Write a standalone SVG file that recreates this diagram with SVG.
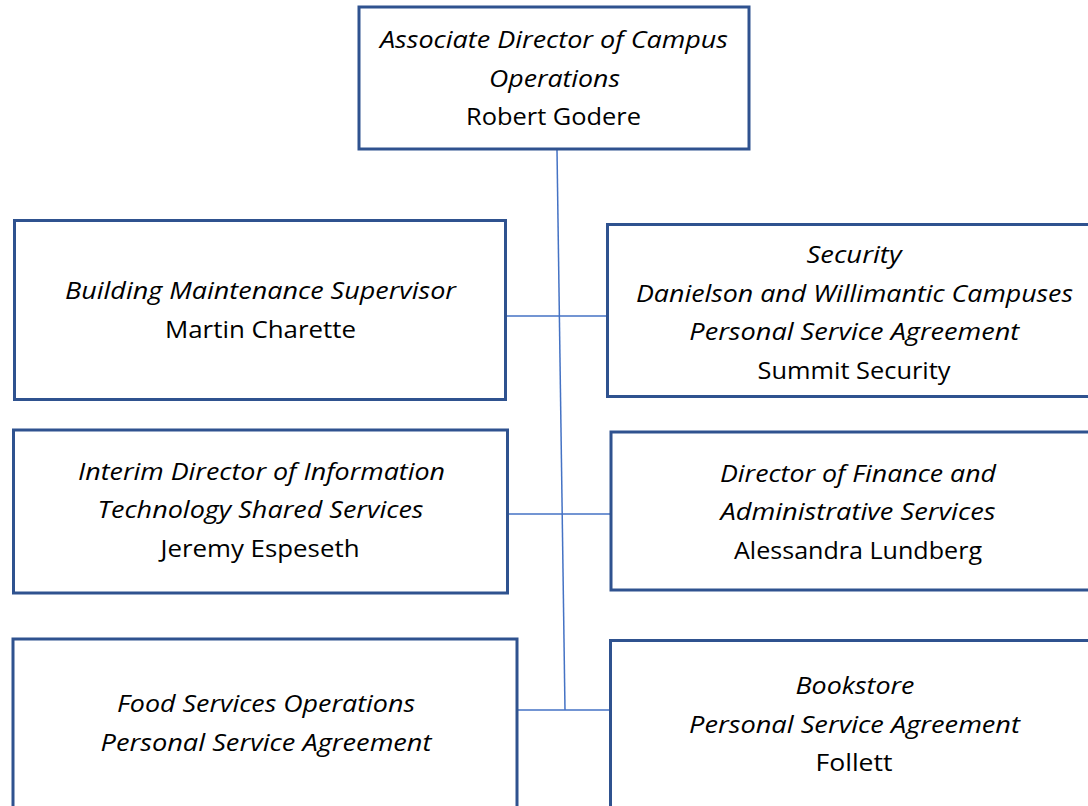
<svg xmlns="http://www.w3.org/2000/svg" width="1088" height="806" viewBox="0 0 1088 806">
<style>
.box{fill:#ffffff;stroke:#2F528F;stroke-width:3}
.con{stroke:#4472C4;stroke-width:1.5;fill:none}
text{font-family:"Open Sans","Liberation Sans",sans-serif;font-size:23px;fill:#000;text-anchor:middle}
.t{font-style:italic}
</style>
<rect width="1088" height="806" fill="#ffffff"/>
<g id="connectors">
<line class="con" x1="557" y1="150" x2="565" y2="710"/>
<line class="con" x1="507" y1="316" x2="611" y2="316"/>
<line class="con" x1="508" y1="514" x2="612" y2="514"/>
<line class="con" x1="518" y1="710" x2="611" y2="710"/>
</g>
<g id="node-top">
<rect class="box" x="359" y="7" width="390" height="142"/>
<text class="t" x="554" y="48" textLength="348" lengthAdjust="spacingAndGlyphs">Associate Director of Campus</text>
<text class="t" x="554.5" y="86.5" textLength="131" lengthAdjust="spacingAndGlyphs">Operations</text>
<text x="553.5" y="125" textLength="175" lengthAdjust="spacingAndGlyphs">Robert Godere</text>
</g>
<g id="node-building">
<rect class="box" x="14.5" y="220.5" width="491" height="179"/>
<text class="t" x="260.5" y="299" textLength="391" lengthAdjust="spacingAndGlyphs">Building Maintenance Supervisor</text>
<text x="260.5" y="337.5" textLength="191" lengthAdjust="spacingAndGlyphs">Martin Charette</text>
</g>
<g id="node-security">
<rect class="box" x="607.5" y="224.5" width="490" height="172"/>
<text class="t" x="854" y="263" textLength="95" lengthAdjust="spacingAndGlyphs">Security</text>
<text class="t" x="854.5" y="301.5" textLength="437" lengthAdjust="spacingAndGlyphs">Danielson and Willimantic Campuses</text>
<text class="t" x="854.3" y="340" textLength="330" lengthAdjust="spacingAndGlyphs">Personal Service Agreement</text>
<text x="854" y="378.5" textLength="193" lengthAdjust="spacingAndGlyphs">Summit Security</text>
</g>
<g id="node-it">
<rect class="box" x="13.5" y="430" width="494" height="163"/>
<text class="t" x="261.5" y="479.5" textLength="367" lengthAdjust="spacingAndGlyphs">Interim Director of Information</text>
<text class="t" x="260.5" y="518" textLength="326" lengthAdjust="spacingAndGlyphs">Technology Shared Services</text>
<text x="260" y="556.5" textLength="199" lengthAdjust="spacingAndGlyphs">Jeremy Espeseth</text>
</g>
<g id="node-finance">
<rect class="box" x="611" y="432" width="490" height="158"/>
<text class="t" x="858" y="481.5" textLength="276" lengthAdjust="spacingAndGlyphs">Director of Finance and</text>
<text class="t" x="858" y="520" textLength="275" lengthAdjust="spacingAndGlyphs">Administrative Services</text>
<text x="858" y="558.5" textLength="248" lengthAdjust="spacingAndGlyphs">Alessandra Lundberg</text>
</g>
<g id="node-food">
<rect class="box" x="13" y="639" width="504" height="180"/>
<text class="t" x="266" y="712" textLength="298" lengthAdjust="spacingAndGlyphs">Food Services Operations</text>
<text class="t" x="266" y="750.5" textLength="331" lengthAdjust="spacingAndGlyphs">Personal Service Agreement</text>
</g>
<g id="node-bookstore">
<rect class="box" x="610.5" y="640.5" width="490" height="180"/>
<text class="t" x="855" y="694" textLength="119" lengthAdjust="spacingAndGlyphs">Bookstore</text>
<text class="t" x="854.5" y="732.5" textLength="331" lengthAdjust="spacingAndGlyphs">Personal Service Agreement</text>
<text x="854" y="771" textLength="77" lengthAdjust="spacingAndGlyphs">Follett</text>
</g>
</svg>
